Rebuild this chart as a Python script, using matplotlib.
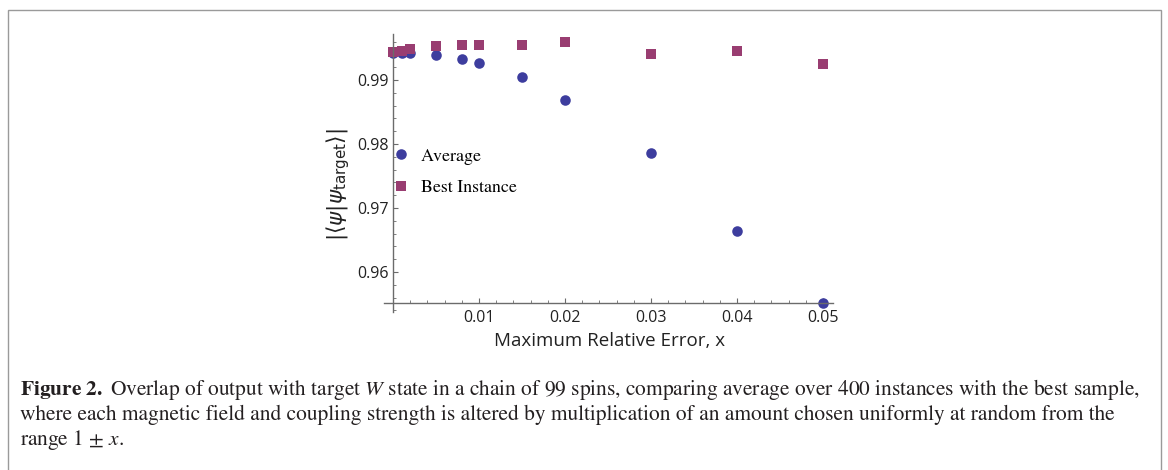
import numpy as np
import matplotlib
matplotlib.use('Agg')
import matplotlib.pyplot as plt
from matplotlib.ticker import MultipleLocator, FixedLocator
from matplotlib.patches import Rectangle

# data
max_rel_error = [0, 0.001, 0.002, 0.005, 0.008, 0.01, 0.015, 0.02, 0.03, 0.04, 0.05]
average = [0.9942, 0.9942, 0.9942, 0.9939, 0.9933, 0.9926, 0.9905, 0.9869, 0.9786, 0.9664, 0.9551]
best_instance = [0.9943, 0.9945, 0.9948, 0.9953, 0.9954, 0.9954, 0.9954, 0.9959, 0.9940, 0.9945, 0.9925]

x_ticks = [0.01, 0.02, 0.03, 0.04, 0.05]
x_ticklabels = ['0.01', '0.02', '0.03', '0.04', '0.05']
y_ticks = [0.96, 0.97, 0.98, 0.99]
y_ticklabels = ['0.96', '0.97', '0.98', '0.99']

col_avg = '#3d3d9e'
col_best = '#993d71'
axis_col = '#6b6b6b'

W, H = 1168, 470
fig = plt.figure(figsize=(W/100, H/100), dpi=100)
fig.patch.set_facecolor('white')

# axes box in pixels: x 384..833, y(top) 34..312
ax = fig.add_axes([384/W, 1 - 312/H, 449/W, 278/H])
ax.set_xlim(-0.00105, 0.05116)
ax.set_ylim(0.95375, 0.99719)

ax.plot(max_rel_error, average, 'o', color=col_avg, markersize=7.6, mew=0, label='Average')
ax.plot(max_rel_error, best_instance, 's', color=col_best, markersize=6.8, mew=0, label='Best Instance')

for s in ['top', 'right']:
    ax.spines[s].set_visible(False)
ax.spines['left'].set_position(('data', 0))
ax.spines['bottom'].set_position(('data', 0.9552))
for s in ['left', 'bottom']:
    ax.spines[s].set_color(axis_col)
    ax.spines[s].set_linewidth(1.0)

ax.xaxis.set_major_locator(FixedLocator(x_ticks))
ax.set_xticklabels(x_ticklabels)
ax.xaxis.set_minor_locator(MultipleLocator(0.002))
ax.yaxis.set_major_locator(FixedLocator(y_ticks))
ax.set_yticklabels(y_ticklabels)
ax.yaxis.set_minor_locator(MultipleLocator(0.002))

for lab in ax.get_xticklabels() + ax.get_yticklabels():
    lab.set_fontfamily('Open Sans')
    lab.set_fontsize(11.5)
    lab.set_color('#222222')
ax.tick_params(which='major', direction='in', length=3.5, width=0.8, color=axis_col)
ax.tick_params(which='minor', direction='in', length=2, width=0.6, color=axis_col)
ax.tick_params(axis='x', which='major', pad=5)
ax.tick_params(axis='y', which='major', pad=3)

leg = ax.legend(loc='upper left', bbox_to_anchor=(392/W, 1 - 148/H), bbox_transform=fig.transFigure,
                frameon=False, numpoints=1, handlelength=1.0, handletextpad=0.6,
                borderpad=0, borderaxespad=0, labelspacing=0.85,
                prop=dict(family='STIXGeneral', size=12.9))

fig.text(338/W, 1 - 185/H, r'$|\langle\psi|\psi_{\mathsf{target}}\rangle|$', rotation=90,
         ha='center', va='center', fontsize=15.5, color='#222222', math_fontfamily='dejavusans')
fig.text(610/W, 1 - 341/H, 'Maximum Relative Error, x', ha='center', va='center',
         family='Open Sans', fontsize=13.5, color='#222222')

# caption
cap_lines = [
    r'$\mathbf{Figure\ 2.}$ Overlap of output with target $W$ state in a chain of 99 spins, comparing average over 400 instances with the best sample,',
    'where each magnetic field and coupling strength is altered by multiplication of an amount chosen uniformly at random from the',
    r'range 1 $\pm$ $x$.',
]
cap_y = [390, 415, 440]
for txt, yy in zip(cap_lines, cap_y):
    fig.text(20/W, 1 - yy/H, txt, ha='left', va='center', family='STIXGeneral',
             fontsize=15.4, color='#231f20', math_fontfamily='stix')

# figure frame
fig.patches.append(Rectangle((8/W, -0.02), 1153/W, 1 - 10/H + 0.02, transform=fig.transFigure,
                             fill=False, edgecolor='#9a9a9a', linewidth=1.0))

fig.savefig('out.png', dpi=100)
